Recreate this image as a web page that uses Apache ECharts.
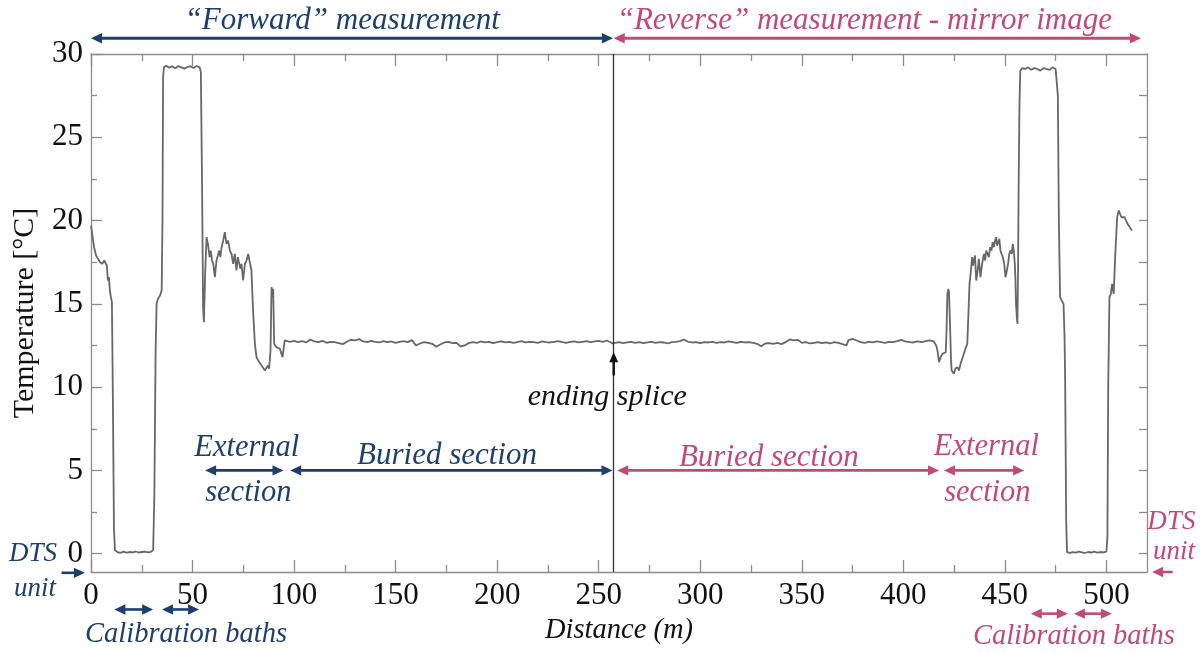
<!DOCTYPE html>
<html>
<head>
<meta charset="utf-8">
<script src="https://cdn.jsdelivr.net/npm/echarts@6/dist/echarts.min.js"></script>
<style>
html,body{margin:0;padding:0;background:#ffffff;}
#chart{width:1203px;height:652px;}
</style>
</head>
<body>
<div id="chart"></div>
<script>
// ---------- data (distance m, temperature °C) ----------
const forwardEnd = [
  [0,19.7],[0.8,19.0],[1.5,18.4],[2.5,17.9],[3.5,17.7],[4.5,17.5],[5.5,17.4],[6.5,17.6],[7.2,17.7],[7.8,17.3],
  [8.3,16.4],[8.8,16.6],[9.3,15.8],[9.8,15.4],[10.3,15.1],[10.8,9.0],[11.3,1.5],[11.8,0.2],[13,0.1],[14.5,0.05],
  [16,0.12],[17.5,0.06],[19,0.1],[20.5,0.08],[22,0.13],[23.5,0.07],[25,0.1],[26.5,0.12],[28,0.08],[29.5,0.11],
  [30.6,0.2],[31.2,3.5],[31.8,12],[32.3,15.0],[33,15.3],[34,15.5],[34.8,15.8],[35.2,20],[35.5,28.6],[35.9,29.2],
  [37,29.3],[38.5,29.18],[40,29.26],[41.5,29.15],[43,29.28],[44.5,29.2],[46,29.12],[47.5,29.22],[49,29.26],[50.5,29.16],
  [52,29.28],[53.5,29.2],[54.1,28.9],[54.7,22],[55.2,14.8],[55.6,13.9],[56.2,16.8],[56.9,19.0],[57.7,18.5],[58.4,17.8],
  [59,18.2],[59.6,17.6],[60.2,17.4],[61,16.6],[61.8,17.6],[62.5,17.9],[63.1,18.2],[63.7,17.8],[64.3,18.4],[65.1,18.8],
  [65.9,19.3],[66.7,18.6],[67.5,18.8],[68.4,18.2],[69.2,18.0],[70,17.4],[70.8,18.0],[71.6,17.0],[72.3,17.8],[73,17.7],
  [73.6,17.1],[74.1,17.4],[74.9,16.4],[75.8,17.4],[76.6,17.6],[77.4,18.0],[78.2,18.1],[79,17.0],[79.8,14.6],[80.7,12.6],
  [81.5,11.8],[82.3,11.6],[83.1,11.5],[84,11.3],[84.8,11.2],[85.6,11.0],[86.4,10.9],[87.1,11.3],[87.7,11.1],[88.4,12.2],
  [88.9,16.0],[89.4,15.4],[89.7,15.9],[90.2,12.6],[91.3,12.4],[92.2,12.5],[93,12.3],[94.3,11.8],[95.4,12.8]
];
const forwardBuried = [
  [96,12.8],[98,12.72],[100,12.78],[102,12.7],[104,12.76],[106,12.68],[108,12.86],[110,12.74],[112,12.7],[114,12.78],
  [116,12.66],[118,12.72],[120,12.7],[122,12.64],[124,12.58],[126,12.72],[128,12.84],[130,12.8],[132,12.88],[134,12.74],
  [136,12.7],[138,12.78],[140,12.72],[142,12.68],[144,12.76],[146,12.7],[148,12.74],[150,12.66],[152,12.72],[154,12.76],
  [156,12.7],[158,12.82],[160,12.5],[162,12.62],[164,12.7],[166,12.66],[168,12.6],[170,12.42],[172,12.56],[174,12.68],
  [176,12.72],[178,12.64],[180,12.66],[182,12.44],[184,12.5],[186,12.64],[188,12.7],[190,12.66],[192,12.74],[194,12.68],
  [196,12.72],[198,12.64],[200,12.7],[202,12.74],[204,12.68],[206,12.72],[208,12.66],[210,12.7],[212,12.76],[214,12.68],
  [216,12.72],[218,12.7],[220,12.66],[222,12.74],[224,12.7],[226,12.68],[228,12.72],[230,12.76],[232,12.7],[234,12.66],
  [236,12.72],[238,12.74],[240,12.68],[242,12.72],[244,12.76],[246,12.7],[248,12.74],[250,12.78],[252,12.72],[254,12.8],
  [256,12.68],[257,12.6]
];
const reverseBuried = [
  [258,12.66],[260,12.7],[262,12.64],[264,12.68],[266,12.72],[268,12.66],[270,12.7],[272,12.64],[274,12.68],[276,12.72],
  [278,12.66],[280,12.7],[282,12.68],[284,12.62],[286,12.7],[288,12.72],[290,12.76],[292,12.86],[294,12.72],[296,12.68],
  [298,12.7],[300,12.64],[302,12.7],[304,12.68],[306,12.72],[308,12.66],[310,12.7],[312,12.68],[314,12.74],[316,12.7],
  [318,12.66],[320,12.72],[322,12.68],[324,12.7],[326,12.66],[328,12.6],[330,12.45],[332,12.62],[334,12.64],[336,12.6],
  [338,12.66],[340,12.58],[342,12.7],[344,12.86],[346,12.8],[348,12.84],[350,12.66],[352,12.7],[354,12.62],[356,12.66],
  [358,12.7],[360,12.64],[362,12.68],[364,12.62],[366,12.7],[368,12.66],[370,12.58],[372,12.5],[373,12.82],[375,12.9],
  [377,12.8],[379,12.7],[381,12.66],[383,12.72],[385,12.68],[387,12.74],[389,12.7],[391,12.66],[393,12.72],[395,12.7],
  [397,12.76],[399,12.84],[401,12.74],[403,12.7],[405,12.68],[407,12.74],[409,12.7],[411,12.76],[413,12.8],[415,12.74]
];
const reverseEnd = [
  [416.2,12.5],[416.8,12.2],[417.6,11.5],[418.4,11.8],[419.3,12.0],[420.1,11.9],[420.9,12.1],[421.3,13.5],[421.7,15.6],[422.2,15.9],
  [422.5,15.7],[423,13.8],[423.5,11.6],[423.8,11.0],[424.3,10.9],[424.9,10.8],[425.6,11.1],[426.6,11.2],[427.4,11.0],[428.2,11.4],
  [429,11.7],[429.8,12.0],[430.6,12.3],[431.5,12.6],[432,14.2],[432.6,16.2],[433.3,17.0],[433.9,17.8],[434.3,17.3],[434.7,17.2],
  [435.3,17.9],[435.9,16.4],[436.6,17.0],[437.2,17.7],[438,16.6],[438.8,17.4],[439.7,18.0],[440.3,17.6],[440.8,18.2],[441.5,18.0],
  [442.1,17.8],[442.8,18.4],[443.4,18.2],[444,18.7],[444.6,18.4],[445.2,18.8],[445.7,19.0],[446.2,18.5],[446.7,18.4],[447.3,18.9],
  [447.8,18.2],[448.4,18.3],[449,17.8],[449.7,17.4],[450.3,16.6],[451,17.0],[451.6,17.4],[452.2,18.0],[452.8,18.2],[453.4,18.0],
  [453.9,18.6],[454.4,18.2],[454.9,17.4],[455.2,16.5],[455.5,15.0],[455.9,14.2],[456.2,13.8],[456.5,17],[456.8,22.2],[457.2,27],
  [457.6,29.0],[458.5,29.15],[460,29.1],[461.5,29.2],[463,29.05],[464.5,29.15],[466,29.1],[467.5,29.0],[469,29.15],[470.5,29.1],
  [472,29.05],[473.5,29.2],[475,29.1],[475.6,29.0],[476.1,27.5],[476.6,20],[477.2,15.4],[478,15.2],[478.9,15.0],[479.4,13],
  [479.7,10.4],[480.2,2],[480.6,0.1],[482,0.05],[483.5,0.1],[485,0.06],[486.5,0.12],[488,0.08],[489.5,0.04],[491,0.1],
  [492.5,0.07],[494,0.12],[495.5,0.06],[497,0.1],[498.5,0.08],[500,0.12],[500.5,1],[500.9,10],[501.5,15.4],[502.2,15.6],
  [502.8,16.2],[503.6,15.6],[504.4,18.0],[505.3,20.2],[506.1,20.6],[506.8,20.5],[507.4,20.2],[508.2,20.3],[509,20.2],[510,19.9],
  [511,19.7],[512,19.5],[512.6,19.4]
];
const spliceDistance = 257.4;

const xLabelValues = [0,50,100,150,200,250,300,350,400,450,500];
const xMinorValues = [25,75,125,175,225,275,325,375,425,475];
const yLabelValues = [0,5,10,15,20,25,30];
const yMinorValues = [2.5,7.5,12.5,17.5,22.5,27.5];
const yRightValues = [0,2.5,5,7.5,10,12.5,15,17.5,20,22.5,25,27.5];

const profile = [].concat(forwardEnd, forwardBuried, reverseBuried, reverseEnd);

// ---------- styling ----------
const BLUE = '#1d3f6e';
const PINK = '#c24a74';
const AXIS = '#8c8c8c';
const SERIF = "'Liberation Serif','Times New Roman',serif";

const chart = echarts.init(document.getElementById('chart'), null, {renderer: 'canvas'});

function xAx(pos, ticks, len, showLine, labels) {
  return {
    type: 'value', position: pos, min: 0, max: 520,
    axisLine: {show: showLine, onZero: false, lineStyle: {color: AXIS, width: 1.3}},
    axisTick: {show: true, inside: true, length: len, customValues: ticks, lineStyle: {color: AXIS, width: 1.3}},
    axisLabel: labels ? {show: true, customValues: labels, margin: 8, color: '#111', fontSize: 31, fontFamily: SERIF} : {show: false},
    splitLine: {show: false}
  };
}
function yAx(pos, ticks, len, showLine, labels) {
  return {
    type: 'value', position: pos, min: -1.1, max: 30,
    axisLine: {show: showLine, onZero: false, lineStyle: {color: AXIS, width: 1.3}},
    axisTick: {show: true, inside: true, length: len, customValues: ticks, lineStyle: {color: AXIS, width: 1.3}},
    axisLabel: labels ? {show: true, customValues: labels, margin: 8, color: '#111', fontSize: 31, fontFamily: SERIF} : {show: false},
    splitLine: {show: false}
  };
}

const xAxes = [
  xAx('bottom', xLabelValues, 12, true, xLabelValues),
  xAx('bottom', xMinorValues, 7, false, null),
  xAx('top', xLabelValues, 12, true, null),
  xAx('top', xMinorValues, 7, false, null)
];
xAxes[0].name = 'Distance (m)';
xAxes[0].nameLocation = 'middle';
xAxes[0].nameGap = 42;
xAxes[0].nameTextStyle = {fontFamily: SERIF, fontStyle: 'italic', fontSize: 28.5, color: '#111'};

const yAxes = [
  yAx('left', yLabelValues, 11, true, yLabelValues),
  yAx('left', yMinorValues, 6, false, null),
  yAx('right', yRightValues, 8, true, null)
];
yAxes[0].name = 'Temperature [°C]';
yAxes[0].nameLocation = 'middle';
yAxes[0].nameGap = 51;
yAxes[0].nameTextStyle = {fontFamily: SERIF, fontSize: 30, color: '#111'};

chart.setOption({
  animation: false,
  backgroundColor: '#ffffff',
  grid: {left: 91, right: 56, top: 54, bottom: 80, containLabel: false},
  xAxis: xAxes,
  yAxis: yAxes,
  series: [{
    type: 'line',
    xAxisIndex: 0, yAxisIndex: 0,
    data: profile,
    showSymbol: false,
    symbol: 'none',
    lineStyle: {color: '#676767', width: 1.8},
    markLine: {
      silent: true, symbol: 'none',
      label: {show: false},
      lineStyle: {color: '#333333', width: 1.3, type: 'solid'},
      data: [{xAxis: spliceDistance}]
    }
  }]
});

// ---------- annotations (positions in data units, converted by the chart's scales) ----------
const annotationArrows = [
  {from: 0, to: 257, t: 30.95, color: BLUE, heads: 'both', w: 3},
  {from: 257.4, to: 517, t: 30.95, color: PINK, heads: 'both', w: 3},
  {from: 56.2, to: 94.8, t: 5.0, color: BLUE, heads: 'both', w: 2.6},
  {from: 98.1, to: 256.8, t: 5.0, color: BLUE, heads: 'both', w: 2.6},
  {from: 259.1, to: 417.6, t: 5.0, color: PINK, heads: 'both', w: 2.6},
  {from: 420, to: 459.5, t: 5.0, color: PINK, heads: 'both', w: 2.6},
  {from: 11.5, to: 30.6, t: -3.35, color: BLUE, heads: 'both', w: 2.6},
  {from: 35, to: 53.2, t: -3.35, color: BLUE, heads: 'both', w: 2.6},
  {from: 462.8, to: 481, t: -3.6, color: PINK, heads: 'both', w: 2.6},
  {from: 484, to: 502.7, t: -3.6, color: PINK, heads: 'both', w: 2.6},
  {from: -14.5, to: -3, t: -1.15, color: BLUE, heads: 'end', w: 2.6},
  {from: 532.6, to: 522.5, t: -1.1, color: PINK, heads: 'end', w: 2.6}
];
const annotationTexts = [
  {text: '\u201CForward\u201D measurement', d: 123.7, t: 32.0, color: BLUE, size: 31},
  {text: '\u201CReverse\u201D measurement - mirror image', d: 380.8, t: 32.0, color: PINK, size: 31},
  {text: 'External', d: 76.7, t: 6.35, color: BLUE, size: 30.5},
  {text: 'section', d: 77.5, t: 3.65, color: BLUE, size: 30.5},
  {text: 'Buried section', d: 175.3, t: 5.9, color: BLUE, size: 31},
  {text: 'Buried section', d: 333.8, t: 5.75, color: PINK, size: 31},
  {text: 'External', d: 440.9, t: 6.4, color: PINK, size: 30.5},
  {text: 'section', d: 441.4, t: 3.65, color: PINK, size: 30.5},
  {text: 'ending splice', d: 254.2, t: 9.41, color: '#111', size: 30},
  {text: 'DTS', d: -28.6, t: 0.0, color: BLUE, size: 27},
  {text: 'unit', d: -27.6, t: -2.1, color: BLUE, size: 27},
  {text: 'DTS', d: 532, t: 1.9, color: PINK, size: 27},
  {text: 'unit', d: 533.3, t: 0.1, color: PINK, size: 27},
  {text: 'Calibration baths', d: 46.8, t: -4.85, color: BLUE, size: 28.5},
  {text: 'Calibration baths', d: 484, t: -5.0, color: PINK, size: 28.5}
];
const spliceArrow = {d: spliceDistance, from: 10.7, to: 12.1, color: '#111'};

function toPx(d, t) { return chart.convertToPixel({xAxisIndex: 0, yAxisIndex: 0}, [d, t]); }

const els = [];
function head(tipX, tipY, dirX, dirY, color, len, half) {
  const bx = tipX - dirX * len, by = tipY - dirY * len;
  const nx = -dirY, ny = dirX;
  els.push({type: 'polygon', silent: true, z: 100,
    shape: {points: [[tipX, tipY], [bx + nx * half, by + ny * half], [bx - nx * half, by - ny * half]]},
    style: {fill: color}});
}
annotationArrows.forEach(a => {
  const p1 = toPx(a.from, a.t), p2 = toPx(a.to, a.t);
  const dir = p2[0] > p1[0] ? 1 : -1;
  const L = 11, H = 5.2;
  const x1 = a.heads === 'both' ? p1[0] + dir * (L - 2) : p1[0];
  const x2 = p2[0] - dir * (L - 2);
  els.push({type: 'line', silent: true, z: 100,
    shape: {x1: x1, y1: p1[1], x2: x2, y2: p2[1]},
    style: {stroke: a.color, lineWidth: a.w}});
  head(p2[0], p2[1], dir, 0, a.color, L, H);
  if (a.heads === 'both') head(p1[0], p1[1], -dir, 0, a.color, L, H);
});
(function () {
  const p1 = toPx(spliceArrow.d, spliceArrow.from), p2 = toPx(spliceArrow.d, spliceArrow.to);
  els.push({type: 'line', silent: true, z: 100,
    shape: {x1: p1[0], y1: p1[1], x2: p2[0], y2: p2[1] + 8},
    style: {stroke: spliceArrow.color, lineWidth: 2.4}});
  head(p2[0], p2[1], 0, -1, spliceArrow.color, 10, 4.5);
})();
annotationTexts.forEach(tx => {
  const p = toPx(tx.d, tx.t);
  els.push({type: 'text', silent: true, z: 100,
    x: p[0], y: p[1],
    style: {text: tx.text, fill: tx.color,
      font: 'italic ' + tx.size + 'px ' + SERIF,
      align: 'center', verticalAlign: 'middle'}});
});

chart.setOption({graphic: {elements: els}});
</script>
</body>
</html>
